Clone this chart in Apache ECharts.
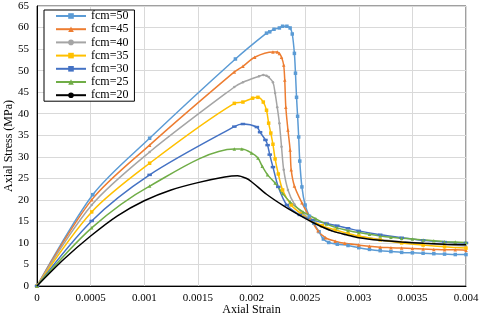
<!DOCTYPE html>
<html>
<head>
<meta charset="utf-8">
<script src="https://cdn.jsdelivr.net/npm/echarts@6/dist/echarts.min.js"></script>
<style>html,body{margin:0;padding:0;background:#fff}#c{width:480px;height:316px}</style>
</head>
<body>
<div id="c"></div>
<script>
var seriesNames = ['fcm=50','fcm=45','fcm=40','fcm=35','fcm=30','fcm=25','fcm=20'];
var xTicks = [0,0.0005,0.001,0.0015,0.002,0.0025,0.003,0.0035,0.004];
var yTicks = [0,5,10,15,20,25,30,35,40,45,50,55,60,65];

var fcm50 = [[0,0],[0.00052,21.2],[0.00105,34.3],[0.00185,52.7],[0.00214,58.7],[0.00217,59],[0.00221,59.6],[0.00226,59.9],[0.00229,60.3],[0.00233,60.3],[0.00236,59.9],[0.00238,58.5],[0.0024,54],[0.00241,49.4],[0.00242,43.8],[0.00243,39.4],[0.00244,34.6],[0.00245,29],[0.00247,23],[0.0025,18.8],[0.00254,16.2],[0.00258,14.6],[0.00263,12.6],[0.00267,10.9],[0.00272,10.1],[0.0028,9.7],[0.0029,9.4],[0.003,8.9],[0.0031,8.5],[0.0032,8.2],[0.0033,8],[0.0034,7.8],[0.0035,7.7],[0.0036,7.6],[0.0037,7.5],[0.0038,7.4],[0.0039,7.3],[0.004,7.3]];
var fcm45 = [[0,0],[0.00051,20],[0.00105,32.7],[0.00184,49.7],[0.00192,51],[0.00203,53.1],[0.0022,54.3],[0.00224,54.3],[0.00226,54],[0.00228,53.1],[0.0023,51.3],[0.00231,47.8],[0.00232,41.5],[0.00234,36.2],[0.00236,31.6],[0.00237,27],[0.0024,23.2],[0.00247,19.3],[0.00255,15.6],[0.00262,12.8],[0.00269,11.2],[0.00278,10.4],[0.00287,9.9],[0.003,9.5],[0.0031,9.2],[0.0032,9],[0.0033,8.9],[0.0034,8.8],[0.0035,8.7],[0.0036,8.6],[0.0037,8.5],[0.0038,8.4],[0.0039,8.4],[0.004,8.3]];
var fcm40 = [[0,0],[0.00051,18.8],[0.00105,31.1],[0.00184,46.2],[0.00192,47.3],[0.00207,48.7],[0.00211,49],[0.00214,48.8],[0.00216,48.5],[0.0022,47.3],[0.00222,44.8],[0.00224,41.5],[0.00226,37.8],[0.00228,32.3],[0.0023,27],[0.00234,22.3],[0.0024,19],[0.00248,16.8],[0.00256,15.3],[0.00265,13.8],[0.00275,12.8],[0.00287,12],[0.003,11.5],[0.0032,10.8],[0.0034,10.3],[0.0036,9.9],[0.0038,9.6],[0.004,9.3]];
var fcm35 = [[0,0],[0.00051,17.2],[0.00105,28.5],[0.00184,42.4],[0.00192,42.7],[0.00201,43.6],[0.00206,43.8],[0.00211,42.7],[0.00214,40.8],[0.00216,37.8],[0.00218,35.5],[0.0022,32.9],[0.00222,29.5],[0.00225,26],[0.00229,22.3],[0.00237,18.8],[0.00246,16.8],[0.00256,15.2],[0.00266,14],[0.00278,13],[0.0029,12.2],[0.003,11.6],[0.0032,10.7],[0.0034,10],[0.0036,9.5],[0.0038,9.1],[0.004,8.8]];
var fcm30 = [[0,0],[0.00051,15.1],[0.00105,25.8],[0.00184,37],[0.00192,37.6],[0.00205,36.9],[0.00208,35.7],[0.00213,33.9],[0.00215,32.7],[0.00217,30.5],[0.0022,27.6],[0.00225,23],[0.00233,18.8],[0.00245,16.5],[0.00257,15.3],[0.0027,14.5],[0.0028,14],[0.0029,13.4],[0.003,12.8],[0.0032,11.9],[0.0034,11.2],[0.0036,10.6],[0.0038,10.2],[0.004,10]];
var fcm25 = [[0,0],[0.00051,13.5],[0.00105,23.2],[0.00184,31.8],[0.00191,31.8],[0.002,30.9],[0.00206,29.7],[0.0021,27.8],[0.00215,25.8],[0.00222,23.9],[0.00229,21.5],[0.00236,19.5],[0.00248,17.2],[0.0026,15.6],[0.0027,14.4],[0.0028,13.5],[0.0029,12.9],[0.003,12.4],[0.0031,12],[0.0032,11.6],[0.0033,11.3],[0.0034,11.1],[0.0035,10.9],[0.0036,10.7],[0.0037,10.5],[0.0038,10.3],[0.0039,10.2],[0.004,10.1]];
var fcm20 = [[0,0],[0.00025,6.2],[0.0005,11.6],[0.00075,16.3],[0.001,19.8],[0.00125,22.3],[0.0015,24],[0.00175,25.3],[0.00187,25.6],[0.00195,25],[0.002,24.2],[0.00214,21.3],[0.0023,18.6],[0.00245,16.4],[0.0026,14.4],[0.00275,12.8],[0.0029,11.8],[0.003,11.2],[0.0032,10.6],[0.0034,10.2],[0.0036,9.9],[0.0038,9.7],[0.004,9.6]];

var allData = [fcm50, fcm45, fcm40, fcm35, fcm30, fcm25, fcm20];
var colors = ['#5B9BD5','#ED7D31','#A5A5A5','#FFC000','#4472C4','#70AD47','#000000'];
var symbols = ['rect','triangle','circle','rect','rect','triangle','none'];
var symSizes = [3.5,3.5,2.5,3.5,[4.5,2.5],3.5,0];

var font = "'Liberation Serif','Times New Roman',serif";
var chart = echarts.init(document.getElementById('c'), null, {renderer:'canvas'});
var series = seriesNames.map(function(n,i){
  return {
    name:n, type:'line', data:allData[i],
    smooth:0.3,
    symbol:symbols[i], symbolSize:symSizes[i], showSymbol:symbols[i]!=='none',
    lineStyle:{color:colors[i], width:1.5},
    itemStyle:{color:colors[i]},
    z: i===6 ? 3 : 2
  };
});
chart.setOption({
  animation:false,
  textStyle:{fontFamily:font},
  grid:{left:37, right:14, top:6, bottom:30, outerBoundsMode:'none', containLabel:false, show:true, borderColor:'#404040', borderWidth:1},
  legend:{
    data:seriesNames, orient:'vertical', left:44, top:10,
    padding:[0,6,0,11], itemGap:1.2, itemWidth:30, itemHeight:7,
    borderColor:'#000', borderWidth:1, backgroundColor:'#fff',
    textStyle:{fontFamily:font, fontSize:12, color:'#000', lineHeight:12}
  },
  xAxis:{
    type:'value', min:xTicks[0], max:xTicks[xTicks.length-1], interval:xTicks[1]-xTicks[0],
    name:'Axial Strain', nameLocation:'middle', nameGap:18, nameMoveOverlap:false,
    nameTextStyle:{fontFamily:font, fontSize:12, color:'#000'},
    axisLine:{lineStyle:{color:'#000'}}, axisTick:{show:false},
    axisLabel:{fontFamily:font, fontSize:11, color:'#000', margin:7,
      formatter:function(v){return String(+v.toFixed(4));}},
    splitLine:{show:true, lineStyle:{color:'#d9d9d9'}}
  },
  yAxis:{
    type:'value', min:yTicks[0], max:yTicks[yTicks.length-1], interval:yTicks[1]-yTicks[0],
    name:'Axial Stress (MPa)', nameLocation:'middle', nameGap:22, nameMoveOverlap:false,
    nameTextStyle:{fontFamily:font, fontSize:12, color:'#000'},
    axisLine:{show:true, lineStyle:{color:'#000'}}, axisTick:{show:false},
    axisLabel:{fontFamily:font, fontSize:11, color:'#000', margin:8},
    splitLine:{show:true, lineStyle:{color:'#d9d9d9'}}
  },
  series:series
});
</script>
</body>
</html>
